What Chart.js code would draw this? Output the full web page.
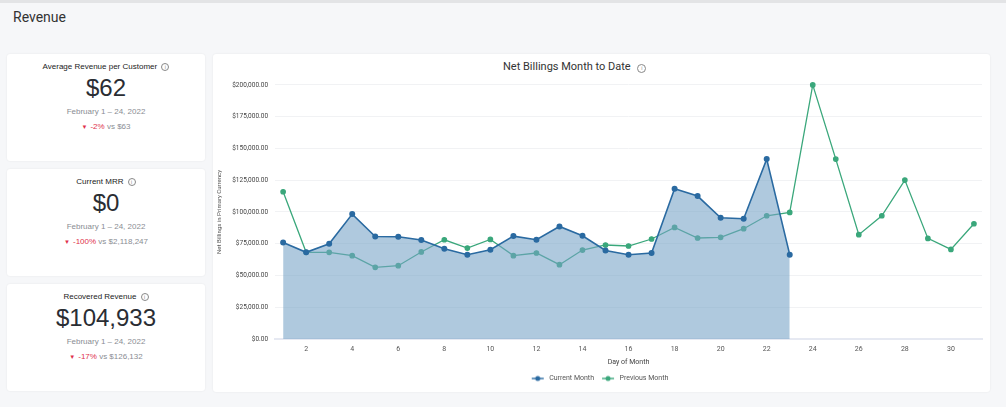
<!DOCTYPE html>
<html lang="en">
<head>
  <meta charset="UTF-8" />
  <title>Revenue</title>
  <script src="https://cdn.jsdelivr.net/npm/chart.js"></script>
  <style>
    body { margin: 0; width: 1006px; height: 407px; background: #f6f7f9; font-family: "Liberation Sans", Arial, sans-serif; position: relative; overflow: hidden; }
    .topline { position: absolute; left: 0; top: 0; width: 1006px; height: 3px; background: #e3e4e6; }
    .page-title { position: absolute; left: 13px; top: 9px; font-family: Roboto, sans-serif; font-size: 14px; color: #333; }
    .card { position: absolute; background: #fff; border-radius: 3px; box-shadow: 0 0 2px rgba(0,0,0,0.08); }
    .stat { left: 7px; width: 198px; height: 107px; text-align: center; }
    .stat .t { margin-top: 8px; font-size: 8px; color: #222; }
    .stat .v { font-size: 24px; color: #2a2d33; margin-top: 3px; line-height: 28px; }
    .stat .d { font-size: 8px; color: #8a8d93; margin-top: 5px; }
    .stat .c { font-size: 8px; color: #8a8d93; margin-top: 6px; }
    .stat .c b { color: #e0314b; font-weight: normal; }
    .stat .c i { color: #e0314b; font-style: normal; font-size: 6px; margin-right: 3px; }
    .info { display: inline-block; width: 6px; height: 6px; border: 1px solid #888; border-radius: 50%; font-size: 5px; line-height: 6px; text-align: center; color: #888; vertical-align: 0px; margin-left: 2px; }
    .chart-card { left: 213px; top: 54px; width: 777px; height: 338px; }
    .chart-title { position: absolute; left: 290px; top: 6px; font-family: Roboto, sans-serif; font-size: 11px; color: #333; white-space: nowrap; }
    .chart-title .info { width: 7px; height: 7px; line-height: 7px; margin-left: 4px; }
    #wrap { position: absolute; left: 0px; top: 20px; width: 775px; height: 320px; }
  </style>
</head>
<body>
  <div class="topline"></div>
  <div class="page-title">Revenue</div>

  <div class="card stat" style="top:54px">
    <div class="t">Average Revenue per Customer <span class="info">i</span></div>
    <div class="v">$62</div>
    <div class="d">February 1 – 24, 2022</div>
    <div class="c"><i>▼</i><b>-2%</b> vs $63</div>
  </div>
  <div class="card stat" style="top:169px">
    <div class="t">Current MRR <span class="info">i</span></div>
    <div class="v">$0</div>
    <div class="d">February 1 – 24, 2022</div>
    <div class="c"><i>▼</i><b>-100%</b> vs $2,118,247</div>
  </div>
  <div class="card stat" style="top:284px">
    <div class="t">Recovered Revenue <span class="info">i</span></div>
    <div class="v">$104,933</div>
    <div class="d">February 1 – 24, 2022</div>
    <div class="c"><i>▼</i><b>-17%</b> vs $126,132</div>
  </div>

  <div class="card chart-card">
    <div class="chart-title">Net Billings Month to Date <span class="info">i</span></div>
    <div id="wrap"><canvas id="billingChart"></canvas></div>
  </div>

  <script>
    const days = [1,2,3,4,5,6,7,8,9,10,11,12,13,14,15,16,17,18,19,20,21,22,23,24,25,26,27,28,29,30,31];
    const currentMonth = [76000, 68200, 75000, 98300, 80700, 80500, 77900, 71100, 66300, 70300,
      81000, 78100, 88600, 81300, 69700, 66300, 67700, 118200, 112500, 95400, 94700, 141600, 66400];
    const previousMonth = [115900, 68200, 68200, 65600, 56400, 57700, 68500, 78100, 71600, 78400,
      65600, 67700, 58500, 70000, 74000, 73200, 78700, 87800, 79500, 80000, 86800, 97000, 99600,
      200000, 141600, 82100, 97000, 125100, 79200, 70500, 90700];
    const xTicks = [2,4,6,8,10,12,14,16,18,20,22,24,26,28,30];
    const yTicks = [0, 25000, 50000, 75000, 100000, 125000, 150000, 175000, 200000];

    const blue = '#2a6aa1';
    const green = '#3aa77b';

    function legendIcon(color) {
      const c = document.createElement('canvas');
      c.width = 14; c.height = 8;
      const g = c.getContext('2d');
      g.strokeStyle = color; g.lineWidth = 1.4;
      g.beginPath(); g.moveTo(1, 4); g.lineTo(13, 4); g.stroke();
      g.fillStyle = color;
      g.beginPath(); g.arc(7, 4, 2.5, 0, Math.PI * 2); g.fill();
      return c;
    }
    const icons = [legendIcon(blue), legendIcon(green)];

    const money = v => '$' + v.toLocaleString('en-US', { minimumFractionDigits: 2, maximumFractionDigits: 2 });

    new Chart(document.getElementById('billingChart'), {
      type: 'line',
      data: {
        datasets: [{
          label: 'Current Month',
          data: currentMonth.map((v, i) => ({ x: days[i], y: v })),
          borderColor: blue,
          backgroundColor: 'rgba(118,162,198,0.58)',
          fill: 'origin',
          borderWidth: 1.6,
          pointRadius: 2.2,
          pointBackgroundColor: blue,
          pointBorderColor: blue,
          tension: 0,
          clip: false
        }, {
          label: 'Previous Month',
          data: previousMonth.map((v, i) => ({ x: days[i], y: v })),
          borderColor: green,
          backgroundColor: green,
          fill: false,
          borderWidth: 1.3,
          pointRadius: 2.2,
          pointBackgroundColor: green,
          pointBorderColor: green,
          tension: 0,
          clip: false
        }]
      },
      options: {
        responsive: true,
        maintainAspectRatio: false,
        animation: false,
        layout: { padding: { left: 3, right: 6, top: 3, bottom: 2 } },
        plugins: {
          legend: {
            position: 'bottom',
            labels: {
              font: { family: 'Roboto', size: 7 },
              color: '#555',
              usePointStyle: true,
              pointStyleWidth: 16,
              boxWidth: 16,
              boxHeight: 8,
              padding: 6,
              generateLabels: chart => chart.data.datasets.map((ds, i) => ({
                text: ds.label,
                pointStyle: icons[i],
                fillStyle: ds.borderColor,
                strokeStyle: ds.borderColor,
                fontColor: '#555',
                lineWidth: 0,
                datasetIndex: i
              }))
            }
          },
          tooltip: { enabled: false }
        },
        scales: {
          x: {
            type: 'linear',
            min: 0.65,
            max: 31.35,
            afterBuildTicks: scale => { scale.ticks = xTicks.map(v => ({ value: v })); },
            grid: { display: false, drawTicks: false },
            border: { display: true, color: '#e6e9f2', width: 2 },
            ticks: { font: { family: 'Roboto', size: 7, lineHeight: 1 }, color: '#555', maxRotation: 0, padding: 7 },
            title: { display: true, text: 'Day of Month', font: { family: 'Roboto', size: 7, lineHeight: 1 }, color: '#444', padding: { top: -1, bottom: 3 } }
          },
          y: {
            min: 0,
            max: 200000,
            afterBuildTicks: scale => { scale.ticks = yTicks.map(v => ({ value: v })); },
            grid: { color: '#f1f2f4', lineWidth: 1, drawTicks: false },
            border: { display: false },
            ticks: { font: { family: 'Roboto', size: 6.5 }, color: '#444', padding: 7, callback: v => money(v) },
            title: { display: true, text: 'Net Billings in Primary Currency', font: { family: 'Roboto', size: 6 }, color: '#555', padding: { top: 0, bottom: 2 } }
          }
        }
      }
    });
  </script>
</body>
</html>
